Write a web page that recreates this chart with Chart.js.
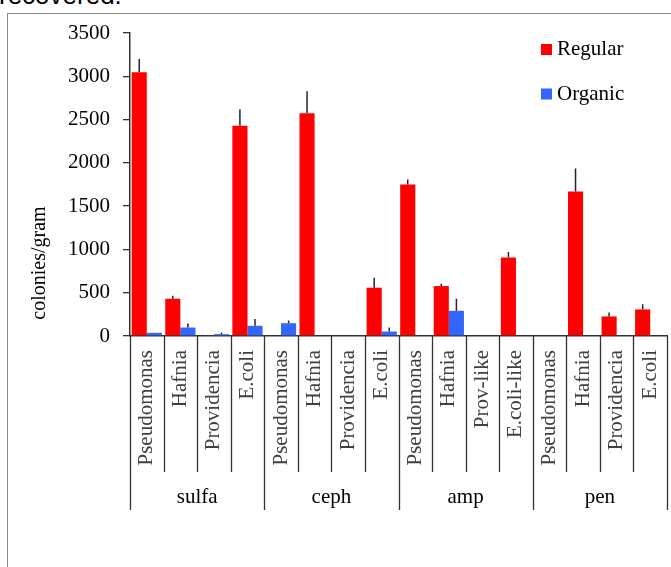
<!DOCTYPE html>
<html>
<head>
<meta charset="utf-8">
<script src="https://cdn.jsdelivr.net/npm/chart.js@4.4.1/dist/chart.umd.min.js"></script>
<style>
  body { margin: 0; background: #fff; width: 671px; height: 567px; overflow: hidden; position: relative; }
  .above { position: absolute; left: -1px; top: -18px; font: 26px "Liberation Sans", Arial, sans-serif; line-height: 26px; color: #000; }
  .frame { position: absolute; left: 7px; top: 13px; width: 700px; height: 600px; border: 1px solid #8a8a8a; }
  canvas { position: absolute; left: 0; top: 0; }
</style>
</head>
<body>
<div class="above">recovered.</div>
<div class="frame"></div>
<canvas id="barChart" width="671" height="567"></canvas>
<script>
// Data
const bacteria = [`Pseudomonas`, `Hafnia`, `Providencia`, `E.coli`,
                  `Pseudomonas`, `Hafnia`, `Providencia`, `E.coli`,
                  `Pseudomonas`, `Hafnia`, `Prov-like`, `E.coli-like`,
                  `Pseudomonas`, `Hafnia`, `Providencia`, `E.coli`];
const drugs = [`sulfa`, `ceph`, `amp`, `pen`];
const regular = [3046, 430, 0, 2428, 0, 2572, 0, 558, 1750, 577, 0, 908, 0, 1669, 226, 307];
const regularErr = [154, 35, 0, 190, 0, 254, 0, 115, 58, 27, 0, 62, 0, 266, 46, 61];
const organic = [37, 98, 21, 118, 148, 0, 0, 52, 0, 291, 0, 0, 0, 0, 0, 0];
const organicErr = [0, 47, 19, 77, 31, 0, 0, 46, 0, 139, 0, 0, 0, 0, 0, 0];
const yTicks = [0, 500, 1000, 1500, 2000, 2500, 3000, 3500];

const serif = `"Liberation Serif", "Times New Roman", serif`;

// Error bars, group separators, group names, legend and y title
const extras = {
  id: `extras`,
  afterDatasetsDraw(chart) {
    const ctx = chart.ctx;
    const y = chart.scales.y;
    const errs = [regularErr, organicErr];
    ctx.save();
    ctx.strokeStyle = `#222`;
    ctx.lineWidth = 1.5;
    chart.data.datasets.forEach((ds, d) => {
      chart.getDatasetMeta(d).data.forEach((bar, i) => {
        if (!errs[d][i]) return;
        ctx.beginPath();
        ctx.moveTo(bar.x, y.getPixelForValue(ds.data[i]));
        ctx.lineTo(bar.x, y.getPixelForValue(ds.data[i] + errs[d][i]));
        ctx.stroke();
      });
    });
    ctx.restore();
  },
  afterDraw(chart) {
    const ctx = chart.ctx;
    const x = chart.scales.x;
    const area = chart.chartArea;
    const n = bacteria.length;
    const w = (x.right - x.left) / n;
    ctx.save();
    ctx.strokeStyle = `#333`;
    ctx.lineWidth = 1.3;
    for (let i = 0; i <= n; i++) {
      const px = Math.round(x.left + i * w) + 0.5;
      ctx.beginPath();
      ctx.moveTo(px, area.bottom);
      ctx.lineTo(px, i % 4 === 0 ? 510 : 472);
      ctx.stroke();
    }
    ctx.fillStyle = `#000`;
    ctx.font = `21px ${serif}`;
    ctx.textAlign = `center`;
    ctx.textBaseline = `middle`;
    drugs.forEach((g, k) => {
      ctx.fillText(g, x.left + (k * 4 + 2) * w, 497);
    });

    // legend
    ctx.textAlign = `left`;
    chart.data.datasets.forEach((ds, d) => {
      const cy = 49.5 + d * 44.5;
      ctx.fillStyle = ds.backgroundColor;
      ctx.fillRect(541, cy - 5.5, 11, 11);
      ctx.fillStyle = `#000`;
      ctx.fillText(ds.label, 557, cy);
    });

    // y axis title
    ctx.translate(40, 263);
    ctx.rotate(-Math.PI / 2);
    ctx.textAlign = `center`;
    ctx.font = `20px ${serif}`;
    ctx.fillText(`colonies/gram`, 0, 0);
    ctx.restore();
  }
};

const barChart = new Chart(document.getElementById(`barChart`), {
  type: `bar`,
  data: {
    labels: bacteria,
    datasets: [{
      label: `Regular`,
      data: regular,
      backgroundColor: `#ff0000`,
      categoryPercentage: 0.9,
      barPercentage: 1.0
    }, {
      label: `Organic`,
      data: organic,
      backgroundColor: `#3366ff`,
      categoryPercentage: 0.9,
      barPercentage: 1.0
    }]
  },
  options: {
    responsive: false,
    animation: false,
    layout: { padding: { left: 0, right: 4, top: 33, bottom: 0 } },
    plugins: { legend: { display: false }, tooltip: { enabled: false } },
    scales: {
      x: {
        grid: { display: false, drawTicks: false },
        border: { display: true, color: `#333`, width: 1.5 },
        ticks: {
          autoSkip: false, minRotation: 90, maxRotation: 90, padding: 14,
          color: `#404040`, font: { family: serif, size: 21 }
        },
        afterFit(scale) {
          scale.height = 231;
          scale.paddingLeft = 0;
          scale.paddingRight = 0;
        }
      },
      y: {
        min: 0, max: 3500,
        afterBuildTicks(scale) { scale.ticks = yTicks.map(v => ({ value: v })); },
        grid: { drawOnChartArea: false, drawTicks: true, tickLength: 7, color: `#333`, lineWidth: 1.3 },
        border: { display: true, color: `#333`, width: 1.5 },
        ticks: {
          padding: 13, color: `#000`, font: { family: serif, size: 21 },
          callback: v => String(v)
        },
        afterFit(scale) { scale.width = 130; }
      }
    }
  },
  plugins: [extras]
});
</script>
</body>
</html>
